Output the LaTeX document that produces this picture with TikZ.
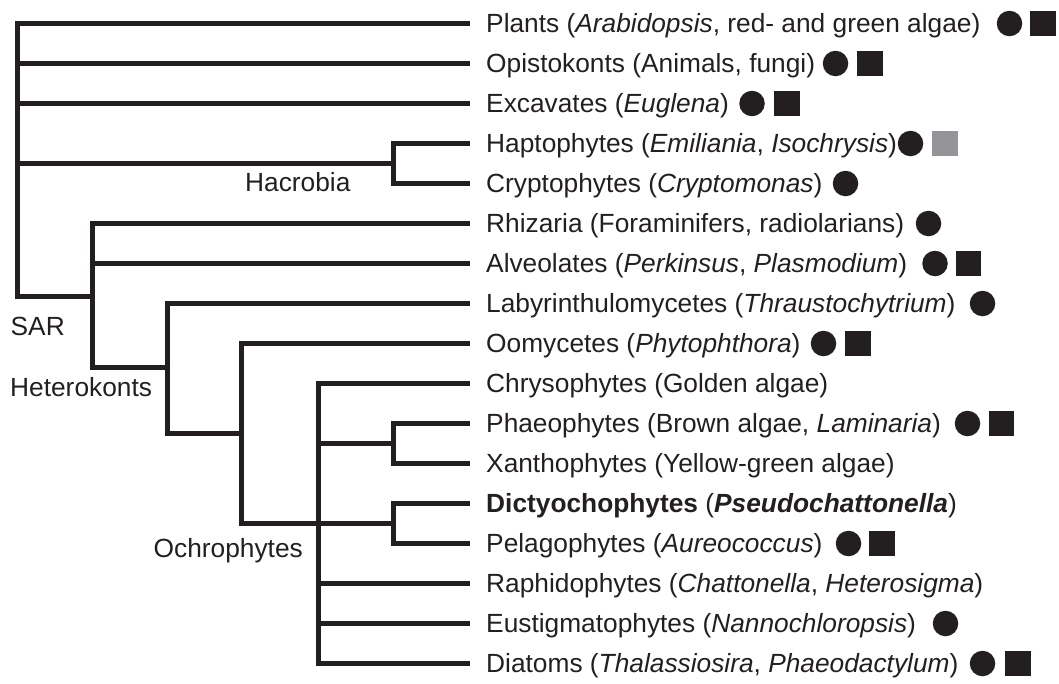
\documentclass[tikz,border=0pt]{standalone}
\usepackage{fontspec}
\setmainfont{Liberation Sans}
\definecolor{ink}{HTML}{231F20}
\definecolor{midgray}{HTML}{939598}
\begin{document}
\begin{tikzpicture}[x=1pt,y=-1pt,
  every node/.style={text=ink,font=\fontsize{26.3}{30}\selectfont},
  leaf/.style={anchor=west,inner xsep=16pt,inner ysep=0pt,text height=18.8pt,text depth=0pt},
  clade/.style={anchor=base west,inner sep=0pt},
  branch/.style={draw=ink,line width=5pt,line join=miter},
  dot/.style={circle,fill=ink,inner sep=0pt,minimum size=25.5pt},
  sq/.style={rectangle,fill=ink,inner sep=0pt,minimum size=25.5pt},
  gsq/.style={rectangle,fill=midgray,inner sep=0pt,minimum size=25.5pt}]
\useasboundingbox (0,0) rectangle (1059,683);

% leaves
\node[leaf] (t1) at (470,23.5) {Plants (\textit{Arabidopsis}, red- and green algae)};
\node[leaf] (t2) at (470,63.5) {Opistokonts (Animals, fungi)};
\node[leaf] (t3) at (470,103.5) {Excavates (\textit{Euglena})};
\node[leaf] (t4) at (470,143.5) {Haptophytes (\textit{Emiliania}, \textit{Isochrysis})};
\node[leaf] (t5) at (470,183.5) {Cryptophytes (\textit{Cryptomonas})};
\node[leaf] (t6) at (470,223.5) {Rhizaria (Foraminifers, radiolarians)};
\node[leaf] (t7) at (470,263.5) {Alveolates (\textit{Perkinsus}, \textit{Plasmodium})};
\node[leaf] (t8) at (470,303.5) {Labyrinthulomycetes (\textit{Thraustochytrium})};
\node[leaf] (t9) at (470,343.5) {Oomycetes (\textit{Phytophthora})};
\node[leaf] (t10) at (470,383.5) {Chrysophytes (Golden algae)};
\node[leaf] (t11) at (470,423.5) {Phaeophytes (Brown algae, \textit{Laminaria})};
\node[leaf] (t12) at (470,463.5) {Xanthophytes (Yellow-green algae)};
\node[leaf] (t13) at (470,503.5) {\textbf{Dictyochophytes} (\textbf{\textit{Pseudochattonella}})};
\node[leaf] (t14) at (470,543.5) {Pelagophytes (\textit{Aureococcus})};
\node[leaf] (t15) at (470,583.5) {Raphidophytes (\textit{Chattonella}, \textit{Heterosigma})};
\node[leaf] (t16) at (470,623.5) {Eustigmatophytes (\textit{Nannochloropsis})};
\node[leaf] (t17) at (470,663.5) {Diatoms (\textit{Thalassiosira}, \textit{Phaeodactylum})};

% junctions
\coordinate (root) at (17,296);
\coordinate (hac) at (393,163.5);
\coordinate (sar) at (92,296);
\coordinate (het) at (167,367);
\coordinate (oom) at (241,433);
\coordinate (och) at (318,523.5);
\coordinate (px) at (393,443.5);
\coordinate (dp) at (393,523.5);

% branches
\draw[branch] (t1.west) -| (root) -- (sar);
\draw[branch] (t2.west) -- (t2.west -| root);
\draw[branch] (t3.west) -- (t3.west -| root);
\draw[branch] (hac) -- (hac -| root);
\draw[branch] (t4.west) -| (hac) |- (t5.west);
\draw[branch] (t6.west) -| (sar) |- (het);
\draw[branch] (t7.west) -- (t7.west -| sar);
\draw[branch] (t8.west) -| (het) |- (oom);
\draw[branch] (t9.west) -| (oom) |- (och);
\draw[branch] (t10.west) -| (och) |- (t17.west);
\draw[branch] (px) -- (px -| och);
\draw[branch] (dp) -- (och);
\draw[branch] (t11.west) -| (px) |- (t12.west);
\draw[branch] (t13.west) -| (dp) |- (t14.west);
\draw[branch] (t15.west) -- (t15.west -| och);
\draw[branch] (t16.west) -- (t16.west -| och);

% clade labels
\node[clade] (lhac) at (245,191.5) {Hacrobia};
\node[clade] (lsar) at (10.5,335) {SAR};
\node[clade] (lhet) at (10,396.5) {Heterokonts};
\node[clade] (loch) at (153.5,557) {Ochrophytes};

% symbols
\node[dot] (c1) at (1009.5,23.5) {};
\node[sq] (s1) at (1043,23.5) {};
\node[dot] (c2) at (835.5,63.5) {};
\node[sq] (s2) at (870,63.5) {};
\node[dot] (c3) at (752,103.5) {};
\node[sq] (s3) at (787,103.5) {};
\node[dot] (c4) at (910.5,143.5) {};
\node[gsq] (s4) at (945,143.5) {};
\node[dot] (c5) at (845.5,183.5) {};
\node[dot] (c6) at (928.5,223.5) {};
\node[dot] (c7) at (935,263.5) {};
\node[sq] (s7) at (968.5,263.5) {};
\node[dot] (c8) at (982.5,303.5) {};
\node[dot] (c9) at (823.5,343.5) {};
\node[sq] (s9) at (858,343.5) {};
\node[dot] (c11) at (967.5,423.5) {};
\node[sq] (s11) at (1001.5,423.5) {};
\node[dot] (c14) at (848.5,543.5) {};
\node[sq] (s14) at (882,543.5) {};
\node[dot] (c16) at (945.5,623.5) {};
\node[dot] (c17) at (982.5,663.5) {};
\node[sq] (s17) at (1018,663.5) {};
\end{tikzpicture}
\end{document}
